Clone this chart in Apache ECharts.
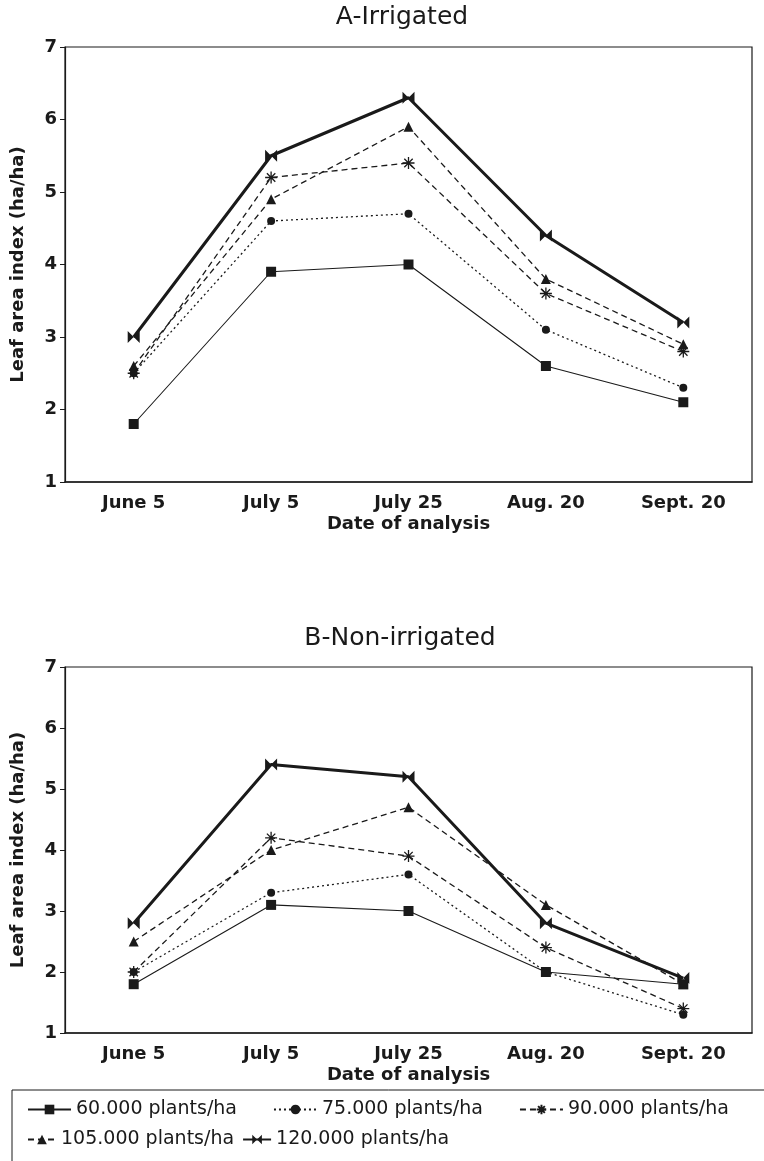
<!DOCTYPE html>
<html>
<head>
<meta charset="utf-8">
<style>
  html, body { margin: 0; padding: 0; background: #fff; }
  #chart { width: 764px; height: 1161px; }
</style>
<script src="https://cdn.jsdelivr.net/npm/echarts@6/dist/echarts.min.js"></script>
</head>
<body>
<div id="chart"></div>
<script>
// dates of analysis
var dates = ['June 5', 'July 5', 'July 25', 'Aug. 20', 'Sept. 20'];
var yTicks = [1, 2, 3, 4, 5, 6, 7];
var names = ['60.000 plants/ha', '75.000 plants/ha', '90.000 plants/ha', '105.000 plants/ha', '120.000 plants/ha'];

// A - irrigated
var irr60 = [1.8, 3.9, 4.0, 2.6, 2.1];
var irr75 = [2.5, 4.6, 4.7, 3.1, 2.3];
var irr90 = [2.5, 5.2, 5.4, 3.6, 2.8];
var irr105 = [2.6, 4.9, 5.9, 3.8, 2.9];
var irr120 = [3.0, 5.5, 6.3, 4.4, 3.2];

// B - non irrigated
var non60 = [1.8, 3.1, 3.0, 2.0, 1.8];
var non75 = [2.0, 3.3, 3.6, 2.0, 1.3];
var non90 = [2.0, 4.2, 3.9, 2.4, 1.4];
var non105 = [2.5, 4.0, 4.7, 3.1, 1.8];
var non120 = [2.8, 5.4, 5.2, 2.8, 1.9];

var ink = '#1a1a1a';
var font = 'DejaVu Sans, Verdana, sans-serif';

var asterisk = 'path://M5,0L5,10M0,5L10,5M1.5,1.5L8.5,8.5M8.5,1.5L1.5,8.5';
var bowtie = 'path://M0,0L10,10L10,0L0,10Z';

// look of each density
var styles = [
  { symbol: 'rect', size: 10, width: 1.1, type: 'solid' },
  { symbol: 'circle', size: 8, width: 1.3, type: [2, 3] },
  { symbol: asterisk, size: 12, width: 1.3, type: [6, 4] },
  { symbol: 'triangle', size: 10, width: 1.3, type: [6, 4] },
  { symbol: bowtie, size: 12, width: 3, type: 'solid' }
];

function makeSeries (data, k, idx) {
  var s = styles[k];
  return {
    name: names[k],
    type: 'line',
    xAxisIndex: idx,
    yAxisIndex: idx,
    data: data,
    symbol: s.symbol,
    symbolSize: s.size,
    showAllSymbol: true,
    z: 10 - k,
    itemStyle: { color: ink, borderColor: ink, borderWidth: s.symbol === asterisk ? 1.3 : 0 },
    lineStyle: { color: ink, width: s.width, type: s.type },
    emphasis: { disabled: true }
  };
}

function xAxis (idx) {
  return {
    type: 'category',
    gridIndex: idx,
    data: dates,
    boundaryGap: true,
    name: 'Date of analysis',
    nameLocation: 'middle',
    nameGap: 33,
    nameTextStyle: { color: ink, fontSize: 18, fontWeight: 'bold', fontFamily: font },
    axisLine: { lineStyle: { color: ink, width: 1.5 } },
    axisTick: { alignWithLabel: true, length: 5, lineStyle: { color: ink } },
    axisLabel: { color: ink, fontSize: 18, fontWeight: 'bold', fontFamily: font, margin: 12 },
    splitLine: { show: false }
  };
}

function yAxis (idx) {
  return {
    type: 'value',
    gridIndex: idx,
    min: yTicks[0],
    max: yTicks[yTicks.length - 1],
    interval: 1,
    name: 'Leaf area index (ha/ha)',
    nameLocation: 'middle',
    nameGap: 38,
    nameTextStyle: { color: ink, fontSize: 18, fontWeight: 'bold', fontFamily: font },
    axisLine: { show: true, lineStyle: { color: ink, width: 1.2 } },
    axisTick: { show: true, length: 5, lineStyle: { color: ink } },
    axisLabel: { color: ink, fontSize: 18, fontWeight: 'bold', fontFamily: font, margin: 8 },
    splitLine: { show: false }
  };
}

var series = [];
[irr60, irr75, irr90, irr105, irr120].forEach(function (d, k) { series.push(makeSeries(d, k, 0)); });
[non60, non75, non90, non105, non120].forEach(function (d, k) { series.push(makeSeries(d, k, 1)); });

var legendText = { color: ink, fontSize: 19, fontFamily: font };

var chart = echarts.init(document.getElementById('chart'));
chart.setOption({
  backgroundColor: '#fff',
  animation: false,
  title: [
    { text: 'A-Irrigated', left: 397, top: 0, textAlign: 'center',
      textStyle: { color: ink, fontSize: 25, fontWeight: 'normal', fontFamily: font } },
    { text: 'B-Non-irrigated', left: 395, top: 621, textAlign: 'center',
      textStyle: { color: ink, fontSize: 25, fontWeight: 'normal', fontFamily: font } }
  ],
  grid: [
    { left: 65, right: 12, top: 47, height: 435, show: true, borderColor: ink, borderWidth: 1.2 },
    { left: 65, right: 12, top: 667, height: 366, show: true, borderColor: ink, borderWidth: 1.2 }
  ],
  xAxis: [xAxis(0), xAxis(1)],
  yAxis: [yAxis(0), yAxis(1)],
  legend: [
    { data: names.slice(0, 3), left: 22, top: 1095, itemWidth: 43, itemHeight: 12,
      itemGap: 36, textStyle: legendText },
    { data: names.slice(3), left: 22, top: 1125, itemWidth: 28, itemHeight: 12,
      itemGap: 8, textStyle: legendText }
  ],
  graphic: [
    { type: 'rect', shape: { x: 12, y: 1090, width: 770, height: 90 },
      style: { fill: 'none', stroke: ink, lineWidth: 1 } }
  ],
  series: series
});
</script>
</body>
</html>
